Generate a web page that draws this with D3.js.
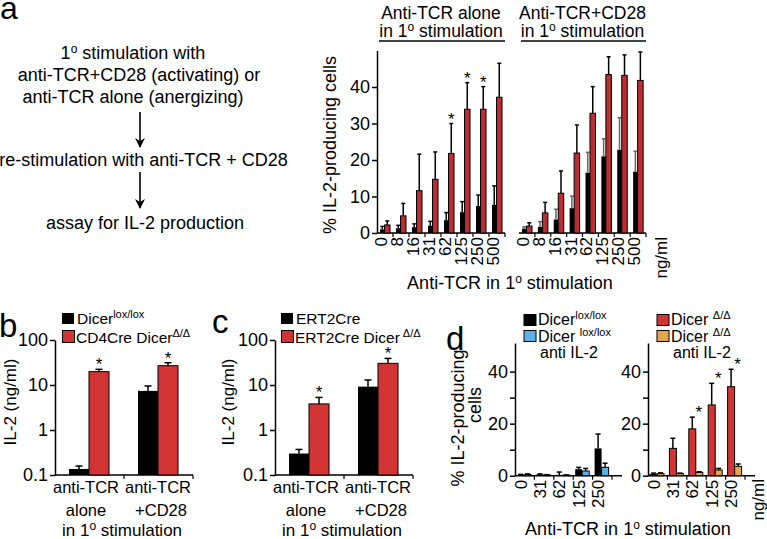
<!DOCTYPE html>
<html>
<head>
<meta charset="utf-8">
<script src="https://cdn.jsdelivr.net/npm/d3@7"></script>
<style>
  body { margin: 0; background: #fff; }
  svg { display: block; font-family: "Liberation Sans", Arial, sans-serif; }
</style>
</head>
<body>
<script>
// ---- panel a: % IL-2 producing cells vs anti-TCR dose ----
const dosesA = ["0", "8", "16", "31", "62", "125", "250", "500"];
// anti-TCR alone in 1o stimulation
const aloneLox = [1.0, 1.3, 1.6, 2.0, 3.5, 5.7, 7.4, 7.7];
const aloneLoxUp = [1.8, 2.1, 2.5, 3.2, 5.6, 8.6, 10.4, 12.9];
const aloneDel = [2.2, 4.7, 11.6, 14.7, 21.8, 33.9, 33.9, 37.2];
const aloneDelUp = [3.3, 8.1, 21.6, 22.2, 30.0, 41.2, 40.1, 46.5];
const aloneStars = ["62", "125", "250"];
// anti-TCR+CD28 in 1o stimulation
const cd28Lox = [1.2, 1.7, 3.7, 6.8, 16.5, 21.0, 22.8, 16.8];
const cd28LoxUp = [1.7, 3.1, 6.5, 10.1, 22.1, 25.8, 31.6, 22.4];
const cd28Del = [1.9, 5.5, 10.9, 21.9, 32.8, 43.4, 43.2, 41.8];
const cd28DelUp = [2.8, 8.4, 17.0, 29.6, 40.1, 48.3, 48.8, 49.6];
const ticksA = [0, 10, 20, 30, 40];

// ---- panel b / c: IL-2 (ng/ml), log scale ----
const groupsBC = ["alone", "cd28"];
const bLox = [0.136, 7.4];
const bLoxUp = [0.158, 9.5];
const bDel = [19.8, 26.9];
const bDelUp = [22.3, 31.3];
const cCre = [0.30, 9.2];
const cCreUp = [0.37, 12.9];
const cDel = [3.8, 30.3];
const cDelUp = [5.3, 39.0];
const ticksLog = [0.1, 1, 10, 100];

// ---- panel d: with / without anti IL-2 ----
const dosesD = ["0", "31", "62", "125", "250"];
const dLox = [0.3, 0.5, 0.3, 2.5, 10.5];
const dLoxUp = [0.5, 0.7, 1.4, 3.2, 16.0];
const dLoxAnti = [0.5, 0.3, 0.2, 1.8, 3.2];
const dLoxAntiUp = [0.7, 0.4, 0.3, 2.8, 4.8];
const dDel = [0.5, 10.5, 18.0, 27.2, 34.2];
const dDelUp = [1.0, 14.4, 22.5, 35.5, 40.9];
const dDelAnti = [0.8, 0.8, 1.3, 2.2, 3.6];
const dDelAntiUp = [1.1, 1.0, 1.5, 2.8, 4.5];
const dStars = ["62", "125", "250"];
const ticksD = [0, 10, 20, 30, 40];

const RED_A = "#bb2d30", RED = "#d23434", BLUE = "#5cb2e6", ORANGE = "#e2a74f";

const svg = d3.select("body").append("svg").attr("width", 767).attr("height", 539);

// text with raised parts, e.g. 1<sup>o</sup>
function rich(t, parts, supSize, rise) {
  let back = 0;
  parts.forEach(p => {
    const s = t.append("tspan").text(p[0]);
    if (p[1]) { s.attr("font-size", supSize).attr("dy", -rise); back = rise; }
    else if (back) { s.attr("dy", back); back = 0; }
  });
  return t;
}
function label(x, y, parts, size, anchor, rot) {
  const t = svg.append("text").attr("font-size", size).attr("text-anchor", anchor || "middle");
  if (rot) t.attr("transform", `translate(${x},${y}) rotate(-90)`).attr("dy", "0.35em");
  else t.attr("x", x).attr("y", y);
  return rich(t, typeof parts === "string" ? [[parts]] : parts, Math.round(size * 0.68), size * 0.36);
}

function bars(x, y, cats, vals, ups, dx, w, fill, stroke, errCol, cap) {
  const base = y(y.domain()[0]);
  const g = svg.append("g");
  g.selectAll("rect").data(cats).enter().append("rect")
    .attr("x", d => x(d) + dx).attr("width", w)
    .attr("y", (d, i) => y(vals[i]))
    .attr("height", (d, i) => base - y(vals[i]))
    .attr("fill", fill)
    .attr("stroke", stroke || "none").attr("stroke-width", 1);
  const e = svg.append("g").attr("stroke", errCol || "#000").attr("stroke-width", 1.5);
  e.selectAll("line.v").data(cats).enter().append("line")
    .attr("x1", d => x(d) + dx + w / 2).attr("x2", d => x(d) + dx + w / 2)
    .attr("y1", (d, i) => y(vals[i])).attr("y2", (d, i) => y(ups[i]));
  e.selectAll("line.c").data(cats).enter().append("line")
    .attr("x1", d => x(d) + dx + w / 2 - cap / 2).attr("x2", d => x(d) + dx + w / 2 + cap / 2)
    .attr("y1", (d, i) => y(ups[i])).attr("y2", (d, i) => y(ups[i]));
}

function stars(x, y, cats, ups, list, dx, size) {
  svg.append("g").selectAll("text").data(list).enter().append("text")
    .attr("x", d => x(d) + dx).attr("y", d => y(ups[cats.indexOf(d)]) + 1)
    .attr("text-anchor", "middle").attr("font-size", size).text("*");
}

function yAxis(x0, y, ticks, fmt, size) {
  const g = svg.append("g").attr("transform", `translate(${x0},0)`)
    .call(d3.axisLeft(y).tickValues(ticks).tickFormat(fmt).tickSize(5).tickSizeOuter(0).tickPadding(2));
  g.selectAll("text").attr("font-size", size).attr("font-family", "Liberation Sans, Arial, sans-serif").attr("fill", "#000");
  g.selectAll("path,line").attr("stroke", "#000").attr("stroke-width", 1.5);
  return g;
}

function xBase(x, y, x1, tickLen) {
  const y0 = y(y.domain()[0]);
  svg.append("line").attr("x1", x.range()[0]).attr("x2", x1).attr("y1", y0).attr("y2", y0)
    .attr("stroke", "#000").attr("stroke-width", 1.5);
  const bounds = x.domain().slice(1).map(d => x(d)).concat([x.range()[1]]);
  svg.append("g").selectAll("line").data(bounds).enter().append("line")
    .attr("x1", d => d).attr("x2", d => d).attr("y1", y0).attr("y2", y0 + tickLen)
    .attr("stroke", "#000").attr("stroke-width", 1.2);
}

function xLabels(x, y, cats, size, dx) {
  const y0 = y(y.domain()[0]);
  cats.forEach(d => label(x(d) + x.bandwidth() / 2 + dx, y0 + 4, d, size, "end", true));
}

// ================= panel a =================
label(0, 19, "a", 32, "start");
const cxA = 139;
label(cxA - 6, 59, [["1"], ["o", 1], [" stimulation with"]], 18);
label(cxA, 81, "anti-TCR+CD28 (activating) or", 18);
label(cxA - 6, 103, "anti-TCR alone (anergizing)", 18);
label(cxA + 4.5, 166, "re-stimulation with anti-TCR + CD28", 18);
label(cxA + 6, 229, "assay for IL-2 production", 18);

const defs = svg.append("defs");
defs.append("marker").attr("id", "ah").attr("viewBox", "0 0 10 10").attr("refX", 9).attr("refY", 5)
  .attr("markerWidth", 10).attr("markerHeight", 10).attr("markerUnits", "userSpaceOnUse").attr("orient", "auto")
  .append("path").attr("d", "M0,0 L10,5 L0,10 L3,5 Z").attr("fill", "#000");
[[112, 147], [172, 208]].forEach(a => {
  svg.append("line").attr("x1", 140).attr("x2", 140).attr("y1", a[0]).attr("y2", a[1])
    .attr("stroke", "#000").attr("stroke-width", 1.6).attr("marker-end", "url(#ah)");
});

const ya = d3.scaleLinear().domain([0, 50]).range([233, 50.5]);
const xa1 = d3.scaleBand().domain(dosesA).range([377, 505]);
const xa2 = d3.scaleBand().domain(dosesA).range([519, 646]);

yAxis(377, ya, ticksA, d3.format("d"), 18);
xBase(xa1, ya, 505, 4);
xBase(xa2, ya, 646, 4);

bars(xa1, ya, dosesA, aloneLox, aloneLoxUp, 3, 4.5, "#000", null, "#000", 4);
bars(xa1, ya, dosesA, aloneDel, aloneDelUp, 7.5, 5.5, RED_A, "#000", "#000", 4);
bars(xa2, ya, dosesA, cd28Lox, cd28LoxUp, 3, 4.5, "#000", null, "#666", 4);
bars(xa2, ya, dosesA, cd28Del, cd28DelUp, 7.5, 5.5, RED_A, "#000", "#000", 4);
stars(xa1, ya, dosesA, aloneDelUp, aloneStars, 10.2, 17);

xLabels(xa1, ya, dosesA, 17, -4);
xLabels(xa2, ya, dosesA, 17, -4);
label(661, 237, "ng/ml", 17, "end", true);

label(330, 145, "% IL-2-producing cells", 18, "middle", true);
label(510, 289, [["Anti-TCR in 1"], ["o", 1], [" stimulation"]], 18);

// group headers
[[xa1, "Anti-TCR alone"], [xa2, "Anti-TCR+CD28"]].forEach(h => {
  const r = h[0].range(), c = (r[0] + r[1]) / 2;
  label(c, 18.5, h[1], 17.5);
  label(c, 37, [["in 1"], ["o", 1], [" stimulation"]], 17.5);
  svg.append("line").attr("x1", r[0] + 2).attr("x2", r[1]).attr("y1", 41).attr("y2", 41)
    .attr("stroke", "#000").attr("stroke-width", 1.3);
});

// ================= panels b and c =================
function logPanel(x0, x1, letterX, letterY, legend, lox, loxUp, del, delUp) {
  const y = d3.scaleLog().domain([0.1, 100]).range([475, 340]);
  const x = d3.scaleBand().domain(groupsBC).range([x0, x1]);
  yAxis(x0, y, ticksLog, d => String(d), 18);
  xBase(x, y, x1, 4);
  bars(x, y, groupsBC, lox, loxUp, 14, 20, "#000", null, "#000", 7);
  bars(x, y, groupsBC, del, delUp, 34, 20, RED, "#000", "#000", 7);
  stars(x, y, groupsBC, delUp, groupsBC, 44, 17);
  label(x(groupsBC[0]) + 31, 493, "anti-TCR", 16.5);
  label(x(groupsBC[0]) + 31, 516, "alone", 16.5);
  label(x(groupsBC[1]) + 34, 493, "anti-TCR", 16.5);
  label(x(groupsBC[1]) + 37, 516, "+CD28", 16.5);
  label((x0 + x1) / 2 - 2, 536, [["in 1"], ["o", 1], [" stimulation"]], 17);
  label(letterX, letterY, legend.letter, 33, "start");
  label(legend.yLabelX, 402, "IL-2 (ng/ml)", 17, "middle", true);
  svg.append("rect").attr("x", legend.x).attr("y", 313).attr("width", 12).attr("height", 11).attr("fill", "#000");
  svg.append("rect").attr("x", legend.x + 0.5).attr("y", 330.5).attr("width", 12).attr("height", 12)
    .attr("fill", RED).attr("stroke", "#000").attr("stroke-width", 1);
  label(legend.x + 15, 324, legend.first, 15.5, "start");
  label(legend.x + 14, 343, legend.second, 15.5, "start");
}

logPanel(55, 193, -1, 337, {
  letter: "b", yLabelX: 10, x: 62,
  first: [["Dicer"], ["lox/lox", 1]],
  second: [["CD4Cre Dicer"], ["Δ/Δ", 1]]
}, bLox, bLoxUp, bDel, bDelUp);

logPanel(275, 413, 212, 333, {
  letter: "c", yLabelX: 228, x: 281,
  first: "ERT2Cre",
  second: [["ERT2Cre Dicer"], [" Δ/Δ", 1]]
}, cCre, cCreUp, cDel, cDelUp);

// ================= panel d =================
label(446, 350, "d", 33, "start");
label(458, 418, "% IL-2-producing", 18, "middle", true);
label(475, 405, "cells", 18, "middle", true);

const yd = d3.scaleLinear().domain([0, 51]).range([475.7, 343]);
const fmtD = d => (d % 20 === 0 ? d : "");
const xdL = d3.scaleBand().domain(dosesD).range([515, 612]);
const xdR = d3.scaleBand().domain(dosesD).range([648, 745]);

yAxis(515, yd, ticksD, fmtD, 18);
yAxis(648, yd, ticksD, fmtD, 18);
xBase(xdL, yd, 622, 4);
xBase(xdR, yd, 755, 4);

bars(xdL, yd, dosesD, dLox, dLoxUp, 2, 7, "#000", null, "#000", 5);
bars(xdL, yd, dosesD, dLoxAnti, dLoxAntiUp, 9, 7, BLUE, "#000", "#000", 5);
bars(xdR, yd, dosesD, dDel, dDelUp, 2, 7, RED, "#000", "#000", 5);
bars(xdR, yd, dosesD, dDelAnti, dDelAntiUp, 9, 7, ORANGE, "#000", "#000", 5);
stars(xdR, yd, dosesD, dDelUp, dStars, 12, 17);

xLabels(xdL, yd, dosesD, 17, -4);
xLabels(xdR, yd, dosesD, 17, -4);
label(758, 479, "ng/ml", 17, "end", true);
label(628, 535, [["Anti-TCR in 1"], ["o", 1], [" stimulation"]], 18);

// legends d
[[524, "#000", [["Dicer"], ["lox/lox", 1]], [["Dicer "], ["lox/lox", 1]]],
 [657, RED, [["Dicer "], ["Δ/Δ", 1]], [["Dicer "], ["Δ/Δ", 1]]]].forEach((L, i) => {
  svg.append("rect").attr("x", L[0]).attr("y", 314.5).attr("width", 12).attr("height", 11)
    .attr("fill", L[1]).attr("stroke", "#000").attr("stroke-width", 1);
  svg.append("rect").attr("x", L[0]).attr("y", 330.5).attr("width", 12).attr("height", 11)
    .attr("fill", i === 0 ? BLUE : ORANGE).attr("stroke", "#000").attr("stroke-width", 1);
  label(L[0] + 14, 325, L[2], 16, "start");
  label(L[0] + 14, 342, L[3], 16, "start");
  label(L[0] + 16, 358, "anti IL-2", 16, "start");
});
</script>
</body>
</html>
